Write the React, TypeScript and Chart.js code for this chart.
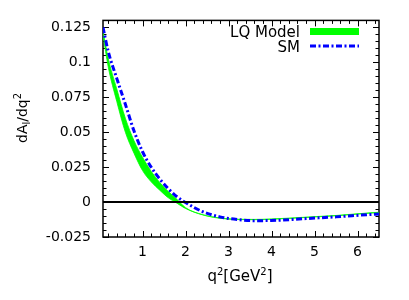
import React, { useEffect, useRef } from "react";
import { Chart, registerables } from "chart.js";
Chart.register(...registerables);

// q^2 sample points [GeV^2]
const qValues = [0.08, 0.2, 0.4, 0.6, 0.8, 1.0, 1.2, 1.4, 1.6, 1.8, 2.0, 2.4, 2.8, 3.2, 3.6, 4.0, 4.8, 5.5, 6.3, 6.5];
// LQ model band (lower / upper edge)
const lqLower = [0.1195, 0.097, 0.072, 0.05, 0.035, 0.0225, 0.0145, 0.0085, 0.003, -0.0008, -0.0046, -0.0092, -0.0116, -0.0125, -0.0126, -0.0123, -0.011, -0.0098, -0.0079, -0.0075];
const lqUpper = [0.1225, 0.103, 0.081, 0.06, 0.044, 0.032, 0.022, 0.014, 0.0075, 0.002, -0.004, -0.009, -0.0114, -0.0123, -0.0124, -0.0121, -0.0108, -0.0096, -0.0077, -0.0073];
// Standard Model curve
const smValues = [0.125, 0.108, 0.0885, 0.07, 0.051, 0.036, 0.025, 0.0165, 0.0095, 0.0038, -0.0003, -0.0069, -0.0106, -0.0125, -0.0133, -0.0132, -0.0118, -0.0106, -0.0089, -0.0086];
// zero reference line
const zeroQ = [0.08, 6.5];
const zeroValues = [0, 0];

const xTicks = [1, 2, 3, 4, 5, 6];
const xTickLabels = ["1", "2", "3", "4", "5", "6"];
const yTicks = [-0.025, 0, 0.025, 0.05, 0.075, 0.1, 0.125];
const yTickLabels = ["-0.025", "0", "0.025", "0.05", "0.075", "0.1", "0.125"];
const seriesLabels = ["LQ Model", "SM"];

const X_MIN = 0.08, X_MAX = 6.5, Y_MIN = -0.025, Y_MAX = 0.13;
const GREEN = "#00ff00";
const BLUE = "#0000ff";
const FONT = "'DejaVu Sans', sans-serif";

type Part = { t: string; size: number; dy: number };

function drawRich(ctx: CanvasRenderingContext2D, parts: Part[], x: number, y: number, align: "left" | "center" | "right") {
  let total = 0;
  for (const p of parts) {
    ctx.font = `${p.size}px ${FONT}`;
    total += ctx.measureText(p.t).width;
  }
  let cx = align === "left" ? x : align === "center" ? x - total / 2 : x - total;
  ctx.textAlign = "left";
  ctx.textBaseline = "alphabetic";
  for (const p of parts) {
    ctx.font = `${p.size}px ${FONT}`;
    ctx.fillText(p.t, cx, y + p.dy);
    cx += ctx.measureText(p.t).width;
  }
}

const framePlugin = {
  id: "frame",
  beforeDatasetsDraw(chart: any) {
    const { ctx, chartArea, scales } = chart;
    const { left, right, top, bottom } = chartArea;
    const x = scales.x, y = scales.y;
    ctx.save();
    ctx.strokeStyle = "#000";
    ctx.lineWidth = 1.5;
    ctx.strokeRect(left, top, right - left, bottom - top);
    ctx.lineWidth = 1;
    const major = 6, minor = 3.5;
    // x ticks
    for (let i = 1; i <= 32; i++) {
      const v = i * 0.2;
      if (v < X_MIN || v > X_MAX) continue;
      const isMajor = Math.abs(v - Math.round(v)) < 1e-6;
      const len = isMajor ? major : minor;
      const px = Math.round(x.getPixelForValue(v)) + 0.5;
      ctx.beginPath();
      ctx.moveTo(px, bottom); ctx.lineTo(px, bottom - len);
      ctx.moveTo(px, top); ctx.lineTo(px, top + len);
      ctx.stroke();
    }
    // y ticks
    for (let i = -5; i <= 26; i++) {
      const v = i * 0.005;
      if (v < Y_MIN - 1e-9 || v > Y_MAX + 1e-9) continue;
      const isMajor = Math.abs(i % 5) === 0;
      const len = isMajor ? major : minor;
      const py = Math.round(y.getPixelForValue(v)) + 0.5;
      ctx.beginPath();
      ctx.moveTo(left, py); ctx.lineTo(left + len, py);
      ctx.moveTo(right, py); ctx.lineTo(right - len, py);
      ctx.stroke();
    }
    ctx.restore();
  },
  afterDraw(chart: any) {
    const { ctx } = chart;
    ctx.save();
    ctx.fillStyle = "#000";
    // legend
    ctx.font = `15px ${FONT}`;
    ctx.textAlign = "right";
    ctx.textBaseline = "alphabetic";
    ctx.fillText(seriesLabels[0], 300, 36.5);
    ctx.fillText(seriesLabels[1], 300, 51.5);
    ctx.fillStyle = GREEN;
    ctx.fillRect(310, 28, 49, 7);
    ctx.strokeStyle = BLUE;
    ctx.lineWidth = 3;
    ctx.setLineDash([6, 2.5, 2, 2.5]);
    ctx.beginPath();
    ctx.moveTo(310, 46); ctx.lineTo(359, 46);
    ctx.stroke();
    ctx.setLineDash([]);
    // x title
    ctx.fillStyle = "#000";
    drawRich(ctx, [
      { t: "q", size: 15, dy: 0 },
      { t: "2", size: 10, dy: -6 },
      { t: "[GeV", size: 15, dy: 0 },
      { t: "2", size: 10, dy: -6 },
      { t: "]", size: 15, dy: 0 },
    ], 240, 281, "center");
    // y title
    ctx.translate(27, 143);
    ctx.rotate(-Math.PI / 2);
    drawRich(ctx, [
      { t: "dA", size: 14, dy: 0 },
      { t: "l", size: 10, dy: 3 },
      { t: "/dq", size: 14, dy: 0 },
      { t: "2", size: 10, dy: -6 },
    ], 0, 0, "left");
    ctx.restore();
  },
};

export default function App() {
  const ref = useRef<HTMLCanvasElement | null>(null);
  useEffect(() => {
    document.body.style.margin = "0";
    if (!ref.current) return;
    const pts = (ys: number[], xs: number[] = qValues) => ys.map((v, i) => ({ x: xs[i], y: v }));
    const chart = new Chart(ref.current, {
      type: "line",
      data: {
        datasets: [
          {
            label: seriesLabels[0] + " (lower)",
            data: pts(lqLower),
            borderColor: GREEN,
            borderWidth: 0.8,
            pointRadius: 0,
            fill: false,
            cubicInterpolationMode: "monotone",
            order: 3,
          },
          {
            label: seriesLabels[0],
            data: pts(lqUpper),
            borderColor: GREEN,
            backgroundColor: GREEN,
            borderWidth: 0.8,
            pointRadius: 0,
            fill: "-1",
            cubicInterpolationMode: "monotone",
            order: 2,
          },
          {
            label: seriesLabels[1],
            data: pts(smValues),
            borderColor: BLUE,
            borderWidth: 3,
            borderDash: [6, 2.5, 2, 2.5],
            pointRadius: 0,
            fill: false,
            cubicInterpolationMode: "monotone",
            order: 1,
          },
          {
            label: "zero",
            data: pts(zeroValues, zeroQ),
            borderColor: "#000",
            borderWidth: 2,
            pointRadius: 0,
            fill: false,
            order: 0,
          },
        ],
      },
      options: {
        animation: false,
        responsive: false,
        devicePixelRatio: 1,
        layout: { padding: { top: 17, right: 30, left: 0, bottom: 0 } },
        plugins: { legend: { display: false }, tooltip: { enabled: false } },
        scales: {
          x: {
            type: "linear",
            min: X_MIN,
            max: X_MAX,
            grid: { display: false, drawTicks: false },
            border: { display: false },
            afterBuildTicks: (s: any) => { s.ticks = xTicks.map((v) => ({ value: v })); },
            afterFit: (s: any) => { s.height = 63; },
            ticks: {
              padding: 7,
              color: "#000",
              font: { family: FONT, size: 14 },
              maxRotation: 0,
              callback: (v: any) => { const i = xTicks.indexOf(Number(v)); return i >= 0 ? xTickLabels[i] : ""; },
            },
          },
          y: {
            type: "linear",
            min: Y_MIN,
            max: Y_MAX,
            grid: { display: false, drawTicks: false },
            border: { display: false },
            afterBuildTicks: (s: any) => { s.ticks = yTicks.map((v) => ({ value: v })); },
            afterFit: (s: any) => { s.width = 103; },
            ticks: {
              padding: 12,
              color: "#000",
              font: { family: FONT, size: 14 },
              callback: (v: any) => {
                const i = yTicks.findIndex((t) => Math.abs(t - Number(v)) < 1e-9);
                return i >= 0 ? yTickLabels[i] : "";
              },
            },
          },
        },
      },
      plugins: [framePlugin],
    } as any);
    return () => chart.destroy();
  }, []);
  return (
    <div style={{ width: 409, height: 300 }}>
      <canvas ref={ref} width={409} height={300} style={{ display: "block" }} />
    </div>
  );
}
